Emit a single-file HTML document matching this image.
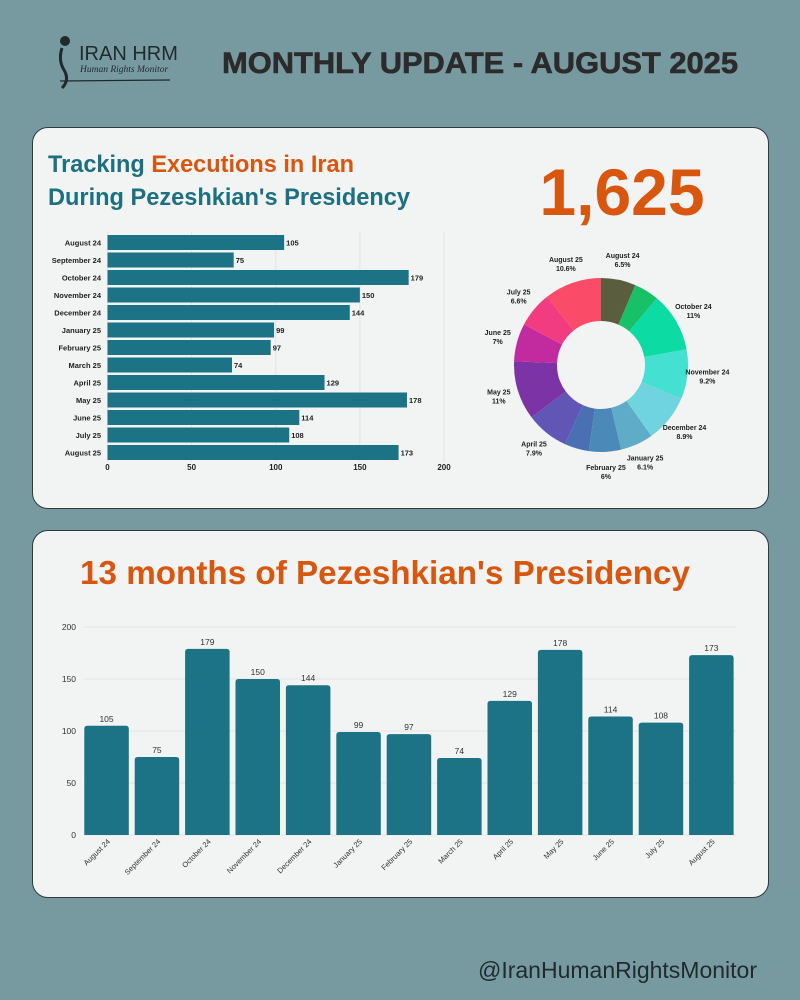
<!DOCTYPE html>
<html><head><meta charset="utf-8"><style>
html,body{margin:0;padding:0;}
body{width:800px;height:1000px;background:#779aa0;position:relative;overflow:hidden;font-family:"Liberation Sans",sans-serif;}
.card{position:absolute;background:#f2f3f3;border:1.5px solid #2f3a3c;border-radius:16px;}
svg{position:absolute;left:0;top:0;}
</style></head><body>
<div class="card" style="left:32px;top:127px;width:735px;height:380px"></div>
<div class="card" style="left:32px;top:530px;width:735px;height:366px"></div>
<svg id="s" width="800" height="1000">
 <g>
  <circle cx="65" cy="41" r="5" fill="#1f2a2c"/>
  <path d="M62 48 Q58 60 64 70 Q70 80 62 88" stroke="#1f2a2c" stroke-width="3" fill="none"/>
  <text x="79" y="60" font-size="20" fill="#1f2a2c" font-family="Liberation Sans,sans-serif">IRAN HRM</text>
  <text x="80" y="72" font-size="9.5" font-style="italic" fill="#1f2a2c" font-family="Liberation Serif,serif">Human Rights Monitor</text>
  <line x1="60" y1="81" x2="170" y2="80" stroke="#1f2a2c" stroke-width="1.2"/>
 </g>
 <text x="222" y="73" textLength="516" lengthAdjust="spacingAndGlyphs" font-size="30" font-weight="bold" fill="#2b2b2b" stroke="#2b2b2b" stroke-width="0.6">MONTHLY UPDATE - AUGUST 2025</text>
 <text x="48" y="172" textLength="306" lengthAdjust="spacingAndGlyphs" font-size="24" font-weight="bold" fill="#1c7080">Tracking <tspan fill="#d9560f">Executions in Iran</tspan></text>
 <text x="48" y="205" textLength="362" lengthAdjust="spacingAndGlyphs" font-size="24" font-weight="bold" fill="#1c7080">During Pezeshkian's Presidency</text>
 <text x="622" y="215" text-anchor="middle" font-size="66" font-weight="bold" fill="#d9560f">1,625</text>
 <text x="80" y="584" textLength="610" lengthAdjust="spacingAndGlyphs" font-size="33" font-weight="bold" fill="#d9560f">13 months of Pezeshkian's Presidency</text>
 <text x="757" y="978" text-anchor="end" font-size="23" fill="#1f2a2c">@IranHumanRightsMonitor</text>
 <g id="hbar"></g><g id="donut"></g><g id="vbar"></g>
</svg>
<script>
const categories=["August 24","September 24","October 24","November 24","December 24","January 25","February 25","March 25","April 25","May 25","June 25","July 25","August 25"];
const values=[105,75,179,150,144,99,97,74,129,178,114,108,173];
const hTicks=[0,50,100,150,200];
const vTicks=[0,50,100,150,200];
const pctLabels=["6.5%","","11%","9.2%","8.9%","6.1%","6%","","7.9%","11%","7%","6.6%","10.6%"];
const sliceColors=["#5a5e3e","#18c067","#0cdca3","#44e0d2","#6fd4e0","#5eacc8","#4b8ab8","#4a6fb3","#6156b6","#7c33a6","#c22a9f","#f23c82","#fa4c68"];
const NS="http://www.w3.org/2000/svg";
function mk(p,t,a){const e=document.createElementNS(NS,t);for(const k in a)e.setAttribute(k,a[k]);p.appendChild(e);return e;}
const teal="#1c7385";
const hb=document.getElementById('hbar');
const hx=v=>107.5+v*(444-107.5)/200;
const hy=i=>235+i*17.5;
hTicks.forEach(t=>{
 const l=mk(hb,'line',{x1:hx(t),x2:hx(t),y1:232,y2:462,stroke:'#e2e4e4','stroke-width':1});
 
 
 const tx=mk(hb,'text',{x:hx(t),y:470,'text-anchor':'middle','font-size':8,'font-weight':'bold',fill:'#222'});
 tx.textContent=t;
 
 
});
categories.forEach((c,i)=>{
 const r=mk(hb,'rect',{x:hx(0),y:hy(i),width:hx(values[i])-hx(0),height:15,fill:teal});
 
 
 const lb=mk(hb,'text',{x:101,y:hy(i)+10.5,'text-anchor':'end','font-size':7.5,'font-weight':'bold',fill:'#222'});
 lb.textContent=c;
 
 
 const vl=mk(hb,'text',{x:hx(values[i])+2,y:hy(i)+10.5,'font-size':7.5,'font-weight':'bold',fill:'#222'});
 vl.textContent=values[i];
 
 
});
const dn=document.getElementById('donut');
const cx=601,cy=365,R=87,r0=44;
const total=values.reduce((a,b)=>a+b,0);
let a0=0;
const pt=(rad,a)=>[cx+rad*Math.sin(a),cy-rad*Math.cos(a)];
values.forEach((v,i)=>{
 const a1=a0+v/total*2*Math.PI;
 const [x1,y1]=pt(R,a0),[x2,y2]=pt(R,a1),[x3,y3]=pt(r0,a1),[x4,y4]=pt(r0,a0);
 const lg=(a1-a0)>Math.PI?1:0;
 const p=mk(dn,'path',{d:`M${x1} ${y1}A${R} ${R} 0 ${lg} 1 ${x2} ${y2}L${x3} ${y3}A${r0} ${r0} 0 ${lg} 0 ${x4} ${y4}Z`,fill:sliceColors[i]});
 
 
 if(pctLabels[i]){
  const am=(a0+a1)/2;const [lx,ly]=pt(R+20,am);
  const t=mk(dn,'text',{x:lx,y:ly-2,'text-anchor':'middle','font-size':7,'font-weight':'bold',fill:'#222'});
  t.textContent=categories[i];
  
  
  const t2=mk(dn,'text',{x:lx,y:ly+7,'text-anchor':'middle','font-size':7,'font-weight':'bold',fill:'#222'});
  t2.textContent=pctLabels[i];
  
  
 }
 a0=a1;
});
const vb=document.getElementById('vbar');
const vy=v=>835-v*(835-627)/200;
const vx=i=>84.3+i*50.4;
const bw=44.5;
vTicks.forEach(t=>{
 const l=mk(vb,'line',{x1:84,x2:736,y1:vy(t),y2:vy(t),stroke:'#e4e6e6','stroke-width':1});
 
 
 const tx=mk(vb,'text',{x:76,y:vy(t)+3,'text-anchor':'end','font-size':8.5,fill:'#333'});
 tx.textContent=t;
 
 
});
categories.forEach((c,i)=>{
 const x=vx(i),y=vy(values[i]),rr=3;
 const p=mk(vb,'path',{d:`M${x} 835V${y+rr}Q${x} ${y} ${x+rr} ${y}H${x+bw-rr}Q${x+bw} ${y} ${x+bw} ${y+rr}V835Z`,fill:teal});
 
 
 const vl=mk(vb,'text',{x:x+bw/2,y:y-4,'text-anchor':'middle','font-size':8.5,fill:'#333'});
 vl.textContent=values[i];
 
 
 const lx=x+bw/2+4,ly=842;
 const lb=mk(vb,'text',{x:lx,y:ly,'text-anchor':'end','font-size':7.5,fill:'#333',transform:`rotate(-45 ${lx} ${ly})`});
 lb.textContent=c;
 
 
});
</script>
</body></html>
